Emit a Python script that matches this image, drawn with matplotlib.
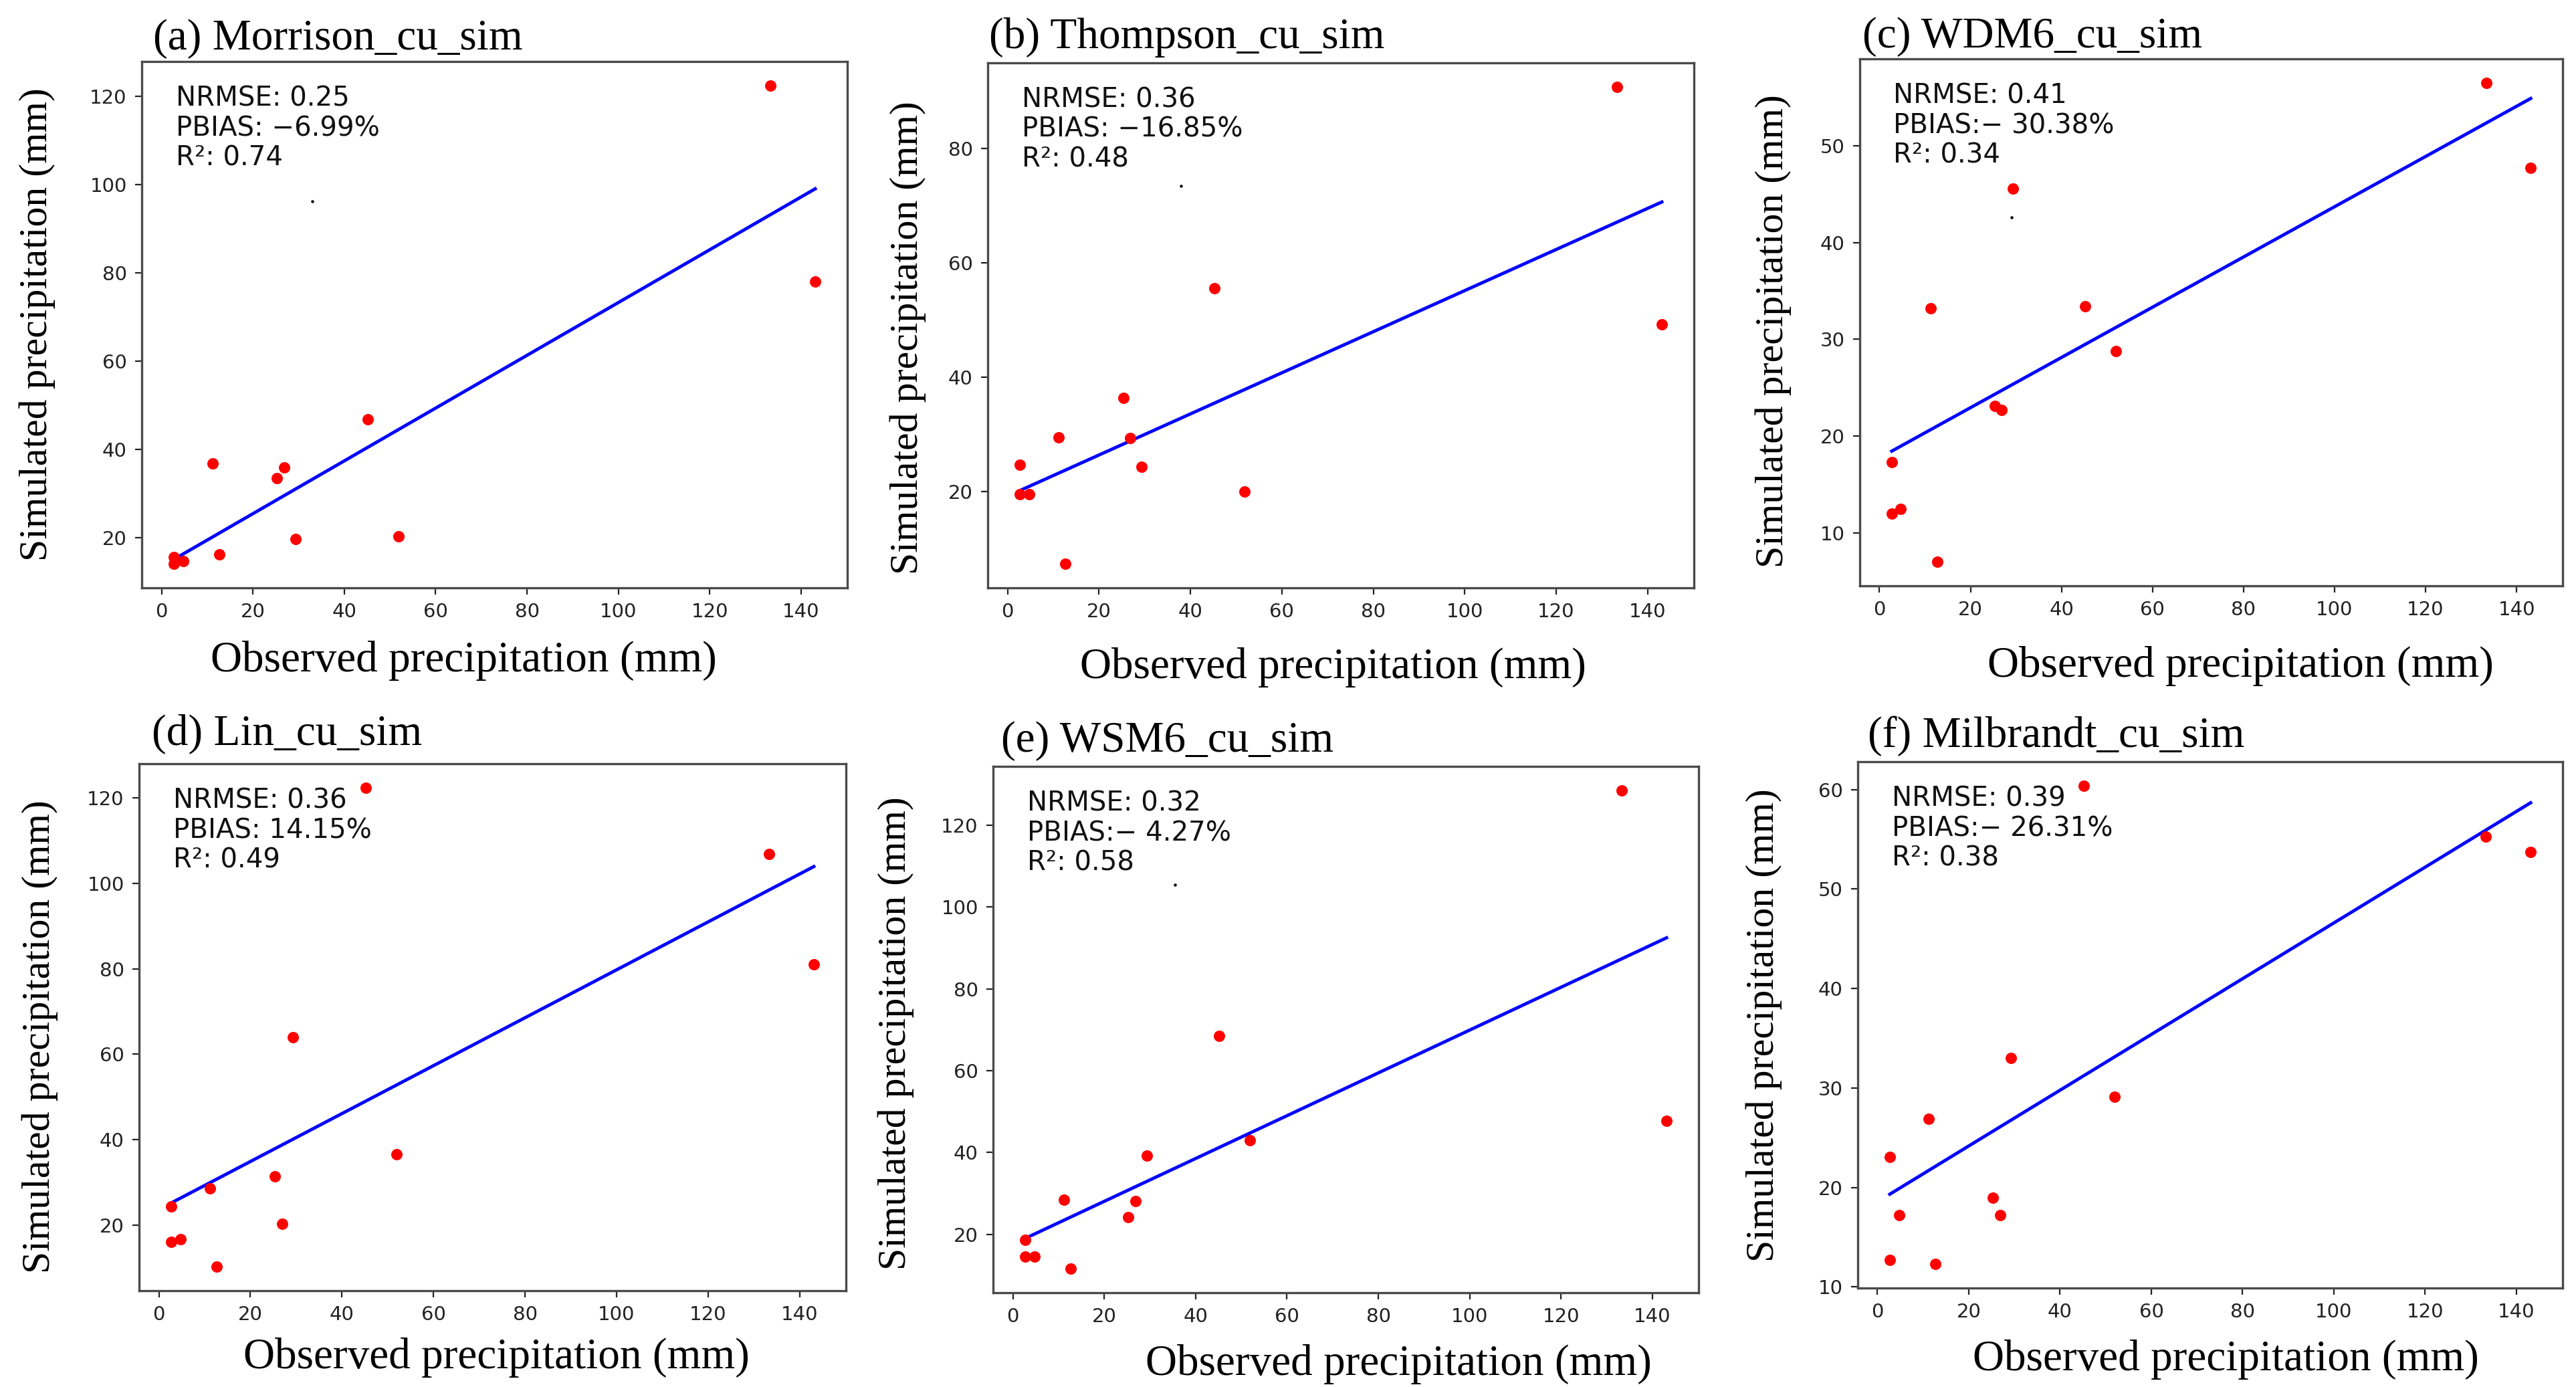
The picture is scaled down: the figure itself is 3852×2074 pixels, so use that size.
import matplotlib
matplotlib.use("Agg")
import matplotlib.pyplot as plt
import numpy as np

# observed precipitation (same stations for every panel)
obs = [2.7, 2.7, 4.7, 11.2, 12.7, 25.3, 26.9, 29.3, 45.2, 51.9, 133.3, 143.1]

# simulated precipitation per scheme
morrison = [15.6, 14.0, 14.6, 36.8, 16.2, 33.5, 35.8, 19.6, 46.8, 20.3, 122.5, 78.0]
thompson = [24.6, 19.5, 19.5, 29.5, 7.3, 36.3, 29.3, 24.3, 55.6, 20.0, 90.8, 49.2]
wdm6 = [17.3, 12.0, 12.5, 33.2, 7.0, 23.1, 22.7, 45.6, 33.4, 28.8, 56.5, 47.7]
lin = [24.4, 16.0, 16.6, 28.5, 10.2, 31.3, 20.3, 63.9, 122.4, 36.5, 106.8, 81.0]
wsm6 = [18.7, 14.5, 14.5, 28.5, 11.6, 24.2, 28.2, 39.2, 68.5, 43.0, 128.5, 47.7]
milbrandt = [23.1, 12.7, 17.2, 26.9, 12.3, 19.0, 17.2, 33.0, 60.4, 29.1, 55.3, 53.7]

sims = [morrison, thompson, wdm6, lin, wsm6, milbrandt]
titles = ["(a) Morrison_cu_sim", "(b) Thompson_cu_sim", "(c) WDM6_cu_sim",
          "(d) Lin_cu_sim", "(e) WSM6_cu_sim", "(f) Milbrandt_cu_sim"]
nrmse = ["0.25", "0.36", "0.41", "0.36", "0.32", "0.39"]
pbias = [" \u22126.99%", " \u221216.85%", "\u2212 30.38%", " 14.15%", "\u2212 4.27%", "\u2212 26.31%"]
r2 = ["0.74", "0.48", "0.34", "0.49", "0.58", "0.38"]

# small stray dots visible in some panels
stray_x = [33.0, 38.0, 29.0, None, 35.5, None]
stray_y = [96.3, 73.5, 42.6, None, 105.5, None]

W, H = 3852, 2074
fig = plt.figure(figsize=(W / 100, H / 100), dpi=100)

# panel boxes in pixels: left, right, top, bottom
boxes = [(212, 1267, 92, 879), (1477, 2533, 94, 879), (2781, 3832, 88, 876),
         (208, 1265, 1142, 1930), (1485, 2540, 1146, 1933), (2778, 3832, 1139, 1926)]
title_pos = [(229, 58), (1479, 56), (2785, 55), (227, 1098), (1497, 1108), (2793, 1101)]
xlab_pos = [(693, 988), (1993, 998), (3350, 996), (742, 2030), (2091, 2040), (3328, 2033)]
ylab_pos = [(56, 485), (1358, 505), (2652, 495), (60, 1550), (1340, 1545), (2638, 1533)]

serif = "Liberation Serif"
spine_col = "#4a4a4a"

for i in range(6):
    L, R, T, B = boxes[i]
    ax = fig.add_axes([L / W, 1 - B / H, (R - L) / W, (B - T) / H])
    x = np.array(obs)
    y = np.array(sims[i])

    ax.scatter(x, y, s=150, color="red", zorder=3, linewidths=0)
    slope, intercept = np.polyfit(x, y, 1)
    xs = np.sort(x)
    ax.plot(xs, slope * xs + intercept, color="blue", lw=3.5, zorder=2)
    if stray_x[i] is not None:
        ax.scatter([stray_x[i]], [stray_y[i]], s=5, color="black", zorder=3)

    ax.set_xticks(range(0, 141, 20))
    ax.tick_params(labelsize=21, length=7, width=1.6, pad=9,
                   colors="#222222")
    for sp in ax.spines.values():
        sp.set_linewidth(2.4)
        sp.set_color(spine_col)

    ax.text(0.048, 0.955, f"NRMSE: {nrmse[i]}\nPBIAS:{pbias[i]}\nR\u00b2: {r2[i]}",
            transform=ax.transAxes, ha="left", va="top", fontsize=29,
            linespacing=1.15, color="#111111")

    tx, ty = title_pos[i]
    fig.text(tx / W, 1 - ty / H, titles[i], ha="left", va="center",
             fontsize=47, family=serif)
    lx, ly = xlab_pos[i]
    fig.text(lx / W, 1 - ly / H, "Observed precipitation (mm)", ha="center",
             va="center", fontsize=47, family=serif)
    yx, yy = ylab_pos[i]
    fig.text(yx / W, 1 - yy / H, "Simulated precipitation (mm)", ha="center",
             va="center", rotation=90, fontsize=43, family=serif)

fig.savefig("out.png", dpi=100, facecolor="white")
